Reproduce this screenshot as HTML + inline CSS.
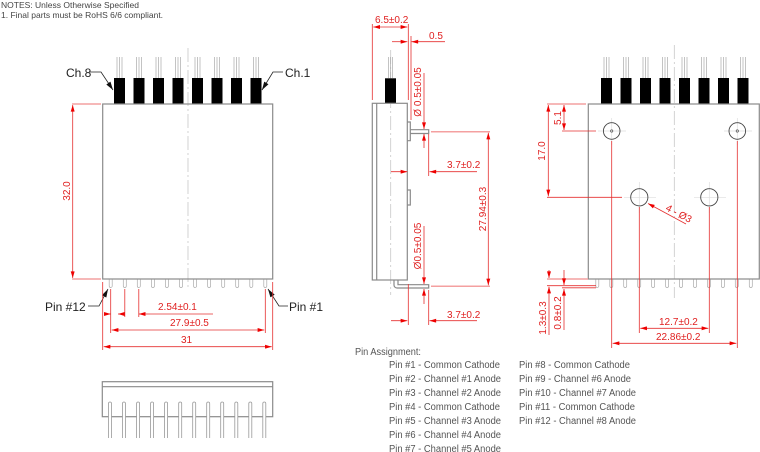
<!DOCTYPE html>
<html><head><meta charset="utf-8"><style>
html,body{margin:0;padding:0;background:#fff;}
svg{display:block;}
text{font-family:"Liberation Sans",Arial,sans-serif;}
.g{stroke:#8a8a8a;fill:none;stroke-width:1.2}
.gt{stroke:#aaa;fill:none;stroke-width:0.7}
.cl{stroke:#c8c8c8;fill:none;stroke-width:0.8;stroke-dasharray:14 3 2 3}
.ch{stroke:#ddd;fill:none;stroke-width:0.7}
.r{stroke:#e53030;fill:none;stroke-width:0.8}
.rp{stroke:#f4a0a0;fill:none;stroke-width:1.5}
.rt{fill:#e02020;font-size:10px}
.bt{fill:#222;font-size:12px}
.pt{fill:#555;font-size:10px}
</style></head><body>
<svg width="760" height="452" viewBox="0 0 760 452" xmlns="http://www.w3.org/2000/svg">
<defs>
<marker id="a" viewBox="0 0 10 6" refX="10" refY="3" markerWidth="8" markerHeight="4" orient="auto-start-reverse" markerUnits="userSpaceOnUse"><path d="M0,0 L10,3 L0,6z" fill="#e00"/></marker>
<marker id="k" viewBox="0 0 10 6" refX="10" refY="3" markerWidth="9" markerHeight="5" orient="auto" markerUnits="userSpaceOnUse"><path d="M0,0 L10,3 L0,6z" fill="#111"/></marker>
</defs>
<text x="1" y="8" fill="#444" font-size="8.5">NOTES: Unless Otherwise Specified</text>
<text x="1" y="18" fill="#444" font-size="8.5">1. Final parts must be RoHS 6/6 compliant.</text>

<!-- LEFT FRONT VIEW -->
<line class="cl" x1="188" y1="48" x2="188" y2="290"/>
<g class="gt">
<path d="M117 57V78M119.5 57V78M122 57V78"/>
<path d="M136.5 57V78M139 57V78M141.5 57V78"/>
<path d="M156 57V78M158.5 57V78M161 57V78"/>
<path d="M175.5 57V78M178 57V78M180.5 57V78"/>
<path d="M195 57V78M197.5 57V78M200 57V78"/>
<path d="M214.5 57V78M217 57V78M219.5 57V78"/>
<path d="M234 57V78M236.5 57V78M239 57V78"/>
<path d="M253.5 57V78M256 57V78M258.5 57V78"/>
</g>
<g fill="#000">
<rect x="114" y="78" width="11" height="26"/><rect x="133.5" y="78" width="11" height="26"/>
<rect x="153" y="78" width="11" height="26"/><rect x="172.5" y="78" width="11" height="26"/>
<rect x="192" y="78" width="11" height="26"/><rect x="211.5" y="78" width="11" height="26"/>
<rect x="231" y="78" width="11" height="26"/><rect x="250.5" y="78" width="11" height="26"/>
</g>
<rect class="g" x="102.7" y="104" width="170" height="175"/>
<g class="gt" stroke="#888">
<path d="M109.2 279.5V286a1.5 1.5 0 0 0 3 0V279.5M123.3 279.5V286a1.5 1.5 0 0 0 3 0V279.5M137.3 279.5V286a1.5 1.5 0 0 0 3 0V279.5M151.4 279.5V286a1.5 1.5 0 0 0 3 0V279.5M165.4 279.5V286a1.5 1.5 0 0 0 3 0V279.5M179.5 279.5V286a1.5 1.5 0 0 0 3 0V279.5M193.6 279.5V286a1.5 1.5 0 0 0 3 0V279.5M207.6 279.5V286a1.5 1.5 0 0 0 3 0V279.5M221.7 279.5V286a1.5 1.5 0 0 0 3 0V279.5M235.7 279.5V286a1.5 1.5 0 0 0 3 0V279.5M249.8 279.5V286a1.5 1.5 0 0 0 3 0V279.5M263.8 279.5V286a1.5 1.5 0 0 0 3 0V279.5"/>
</g>
<text class="bt" x="66" y="77">Ch.8</text>
<path d="M89 72H101L113 90" stroke="#222" stroke-width="0.8" fill="none" marker-end="url(#k)"/>
<text class="bt" x="285" y="77">Ch.1</text>
<path d="M283 72H273L262 90" stroke="#222" stroke-width="0.8" fill="none" marker-end="url(#k)"/>
<text class="bt" x="45" y="311">Pin #12</text>
<path d="M88 306H99L108 289" stroke="#222" stroke-width="0.8" fill="none" marker-end="url(#k)"/>
<text class="bt" x="289" y="311">Pin #1</text>
<path d="M288 306H279L268 289" stroke="#222" stroke-width="0.8" fill="none" marker-end="url(#k)"/>
<path class="rp" d="M72 104H101M72 279H101"/>
<line class="r" x1="72.7" y1="105" x2="72.7" y2="278" marker-start="url(#a)" marker-end="url(#a)"/>
<text class="rt" transform="translate(70,191) rotate(-90)" text-anchor="middle">32.0</text>
<path class="r" d="M110.7 289V333M124.8 289V317M138.8 289V317M265.3 289V333M102.7 282V350M272.7 282V350"/>
<line class="r" x1="104" y1="314" x2="110.7" y2="314" marker-end="url(#a)"/>
<line class="r" x1="124.8" y1="314" x2="118" y2="314" marker-end="url(#a)"/>
<line class="r" x1="150" y1="314" x2="138.8" y2="314" marker-end="url(#a)"/>
<line class="r" x1="150" y1="314" x2="213" y2="314"/>
<text class="rt" x="158" y="310">2.54±0.1</text>
<line class="r" x1="111.7" y1="330" x2="264.3" y2="330" marker-start="url(#a)" marker-end="url(#a)"/>
<text class="rt" x="170" y="326">27.9±0.5</text>
<line class="r" x1="103.7" y1="346.7" x2="271.7" y2="346.7" marker-start="url(#a)" marker-end="url(#a)"/>
<text class="rt" x="181" y="343">31</text>

<!-- BOTTOM SIDE VIEW -->
<rect class="g" x="102.3" y="381.7" width="170.4" height="35"/>
<line class="g" x1="102.3" y1="386.7" x2="272.7" y2="386.7" stroke="#bbb"/>
<g fill="#fff" stroke="#999" stroke-width="0.8">
<path d="M108.5 438V403.5a1.5 1.5 0 0 1 3 0V438M122.5 438V403.5a1.5 1.5 0 0 1 3 0V438M136.6 438V403.5a1.5 1.5 0 0 1 3 0V438M150.6 438V403.5a1.5 1.5 0 0 1 3 0V438M164.6 438V403.5a1.5 1.5 0 0 1 3 0V438M178.7 438V403.5a1.5 1.5 0 0 1 3 0V438M192.7 438V403.5a1.5 1.5 0 0 1 3 0V438M206.7 438V403.5a1.5 1.5 0 0 1 3 0V438M220.7 438V403.5a1.5 1.5 0 0 1 3 0V438M234.8 438V403.5a1.5 1.5 0 0 1 3 0V438M248.8 438V403.5a1.5 1.5 0 0 1 3 0V438M262.8 438V403.5a1.5 1.5 0 0 1 3 0V438"/>
</g>

<!-- SIDE VIEW -->
<line class="cl" x1="390.7" y1="50" x2="390.7" y2="295"/>
<path class="gt" d="M388.5 57V78M390.5 57V78M392.5 57V78"/>
<rect x="385" y="78.3" width="11" height="25" fill="#000"/>
<rect class="g" x="372.3" y="103.3" width="35" height="176.7"/>
<line class="g" x1="376.7" y1="103.3" x2="376.7" y2="280" stroke-width="0.8"/>
<path class="g" stroke-width="0.9" d="M407.3 122H410.3V140.7H407.3M407.3 190H410.3V205H407.3"/>
<path class="g" stroke-width="0.9" d="M410.3 129.7H428.7V133.5H410.3"/>
<path class="g" stroke-width="0.9" d="M394 280V285a3 3 0 0 0 3 3H428.7V284.7H398V280"/>
<path class="r" d="M372.3 24V100M408.3 24V100M411 36V120"/>
<line class="r" x1="373.3" y1="27" x2="407.3" y2="27" marker-start="url(#a)" marker-end="url(#a)"/>
<text class="rt" x="375" y="23">6.5±0.2</text>
<line class="r" x1="392" y1="41.7" x2="407.3" y2="41.7" marker-end="url(#a)"/>
<line class="r" x1="445" y1="41.7" x2="411.5" y2="41.7" marker-end="url(#a)"/>
<text class="rt" x="429" y="39">0.5</text>
<line class="r" x1="424" y1="73" x2="424" y2="129" marker-end="url(#a)"/>
<line class="r" x1="424" y1="148" x2="424" y2="134" marker-end="url(#a)"/>
<text class="rt" transform="translate(421,92) rotate(-90)" text-anchor="middle" font-size="9.5">Ø 0.5±0.05</text>
<path class="r" d="M428.7 134V176"/>
<line class="r" x1="391" y1="171.7" x2="407.3" y2="171.7" marker-end="url(#a)"/>
<line class="r" x1="477" y1="171.7" x2="429.5" y2="171.7" marker-end="url(#a)"/>
<text class="rt" x="447" y="168">3.7±0.2</text>
<path class="rp" d="M431 131.7H490M431 286.3H490"/>
<line class="r" x1="488.3" y1="132.7" x2="488.3" y2="285.3" marker-start="url(#a)" marker-end="url(#a)"/>
<text class="rt" transform="translate(486,209) rotate(-90)" text-anchor="middle">27.94±0.3</text>
<line class="r" x1="424" y1="226" x2="424" y2="284" marker-end="url(#a)"/>
<line class="r" x1="424" y1="304" x2="424" y2="289" marker-end="url(#a)"/>
<text class="rt" transform="translate(421,246) rotate(-90)" text-anchor="middle" font-size="9.5">Ø0.5±0.05</text>
<path class="r" d="M408.3 284V325M428.7 290V325"/>
<line class="r" x1="391" y1="320.7" x2="407.3" y2="320.7" marker-end="url(#a)"/>
<line class="r" x1="477" y1="320.7" x2="429.5" y2="320.7" marker-end="url(#a)"/>
<text class="rt" x="447" y="318">3.7±0.2</text>

<!-- RIGHT BOTTOM VIEW -->
<line class="cl" x1="674.3" y1="45" x2="674.3" y2="298"/>
<g class="gt">
<path d="M604 57V78M606.5 57V78M609 57V78"/>
<path d="M623.5 57V78M626 57V78M628.5 57V78"/>
<path d="M643 57V78M645.5 57V78M648 57V78"/>
<path d="M662.5 57V78M665 57V78M667.5 57V78"/>
<path d="M682 57V78M684.5 57V78M687 57V78"/>
<path d="M701.5 57V78M704 57V78M706.5 57V78"/>
<path d="M721 57V78M723.5 57V78M726 57V78"/>
<path d="M740.5 57V78M743 57V78M745.5 57V78"/>
</g>
<g fill="#000">
<rect x="601" y="78" width="11" height="26"/><rect x="620.5" y="78" width="11" height="26"/>
<rect x="640" y="78" width="11" height="26"/><rect x="659.5" y="78" width="11" height="26"/>
<rect x="679" y="78" width="11" height="26"/><rect x="698.5" y="78" width="11" height="26"/>
<rect x="718" y="78" width="11" height="26"/><rect x="737.5" y="78" width="11" height="26"/>
</g>
<rect class="g" x="588.3" y="104" width="171" height="175"/>
<g class="ch">
<path d="M598 131H626M611.7 118V145M724 131H752M737.3 118V145"/>
<path d="M624 197.3H656M639.3 182V213M694 197.3H726M709.3 182V213"/>
</g>
<g fill="none" stroke="#444" stroke-width="0.9">
<circle cx="611.7" cy="131" r="8.3"/><circle cx="737.3" cy="131" r="8.3"/>
<circle cx="639.3" cy="197.3" r="8.6"/><circle cx="709.3" cy="197.3" r="8.6"/>
</g>
<circle cx="611.7" cy="131" r="1.2" fill="none" stroke="#444" stroke-width="0.6"/>
<circle cx="737.3" cy="131" r="1.2" fill="none" stroke="#444" stroke-width="0.6"/>
<g class="gt" stroke="#888">
<path d="M595.8 279.5V286a1.5 1.5 0 0 0 3 0V279.5M609.8 279.5V286a1.5 1.5 0 0 0 3 0V279.5M623.7 279.5V286a1.5 1.5 0 0 0 3 0V279.5M637.7 279.5V286a1.5 1.5 0 0 0 3 0V279.5M651.6 279.5V286a1.5 1.5 0 0 0 3 0V279.5M665.6 279.5V286a1.5 1.5 0 0 0 3 0V279.5M679.5 279.5V286a1.5 1.5 0 0 0 3 0V279.5M693.5 279.5V286a1.5 1.5 0 0 0 3 0V279.5M707.4 279.5V286a1.5 1.5 0 0 0 3 0V279.5M721.4 279.5V286a1.5 1.5 0 0 0 3 0V279.5M735.3 279.5V286a1.5 1.5 0 0 0 3 0V279.5M749.3 279.5V286a1.5 1.5 0 0 0 3 0V279.5"/>
</g>
<path class="rp" d="M547 104H586M547 279H588"/>
<path class="r" d="M562 131H596M547 197.3H622"/>
<line class="r" x1="564" y1="105" x2="564" y2="130" marker-start="url(#a)" marker-end="url(#a)"/>
<text class="rt" transform="translate(561,118) rotate(-90)" text-anchor="middle">5.1</text>
<line class="r" x1="548.3" y1="105" x2="548.3" y2="196.3" marker-start="url(#a)" marker-end="url(#a)"/>
<text class="rt" transform="translate(545,151) rotate(-90)" text-anchor="middle">17.0</text>
<line class="r" x1="686" y1="224" x2="648" y2="203.5" marker-end="url(#a)"/>
<text class="rt" transform="translate(665,210) rotate(28)">4 - Ø3</text>
<path class="r" d="M611.7 141V348M737.3 141V348M639.3 207V333M709.3 207V333"/>
<path class="r" d="M547 285.7H596M562 287.8H596"/>
<line class="r" x1="549" y1="270" x2="549" y2="278" marker-end="url(#a)"/>
<line class="r" x1="549" y1="335" x2="549" y2="286.7" marker-end="url(#a)"/>
<line class="r" x1="564" y1="270" x2="564" y2="285" marker-end="url(#a)"/>
<line class="r" x1="564" y1="330" x2="564" y2="289" marker-end="url(#a)"/>
<text class="rt" transform="translate(546,318) rotate(-90)" text-anchor="middle" font-size="9.5">1.3±0.3</text>
<text class="rt" transform="translate(561,313) rotate(-90)" text-anchor="middle" font-size="9.5">0.8±0.2</text>
<line class="r" x1="640.3" y1="328.3" x2="708.3" y2="328.3" marker-start="url(#a)" marker-end="url(#a)"/>
<text class="rt" x="659" y="325">12.7±0.2</text>
<line class="r" x1="612.7" y1="343.3" x2="736.3" y2="343.3" marker-start="url(#a)" marker-end="url(#a)"/>
<text class="rt" x="656" y="340">22.86±0.2</text>

<!-- PIN ASSIGNMENT -->
<text class="pt" x="355" y="355" textLength="66" lengthAdjust="spacingAndGlyphs">Pin Assignment:</text>
<g class="pt">
<text x="389" y="368" textLength="111" lengthAdjust="spacingAndGlyphs">Pin #1 - Common Cathode</text>
<text x="389" y="382" textLength="112" lengthAdjust="spacingAndGlyphs">Pin #2 - Channel #1 Anode</text>
<text x="389" y="396" textLength="112" lengthAdjust="spacingAndGlyphs">Pin #3 - Channel #2 Anode</text>
<text x="389" y="410" textLength="111" lengthAdjust="spacingAndGlyphs">Pin #4 - Common Cathode</text>
<text x="389" y="424" textLength="112" lengthAdjust="spacingAndGlyphs">Pin #5 - Channel #3 Anode</text>
<text x="389" y="438" textLength="112" lengthAdjust="spacingAndGlyphs">Pin #6 - Channel #4 Anode</text>
<text x="389" y="452" textLength="112" lengthAdjust="spacingAndGlyphs">Pin #7 - Channel #5 Anode</text>
<text x="519" y="368" textLength="111" lengthAdjust="spacingAndGlyphs">Pin #8 - Common Cathode</text>
<text x="519" y="382" textLength="112" lengthAdjust="spacingAndGlyphs">Pin #9 - Channel #6 Anode</text>
<text x="519" y="396" textLength="117" lengthAdjust="spacingAndGlyphs">Pin #10 - Channel #7 Anode</text>
<text x="519" y="410" textLength="116" lengthAdjust="spacingAndGlyphs">Pin #11 - Common Cathode</text>
<text x="519" y="424" textLength="117" lengthAdjust="spacingAndGlyphs">Pin #12 - Channel #8 Anode</text>
</g>
</svg>
</body></html>
